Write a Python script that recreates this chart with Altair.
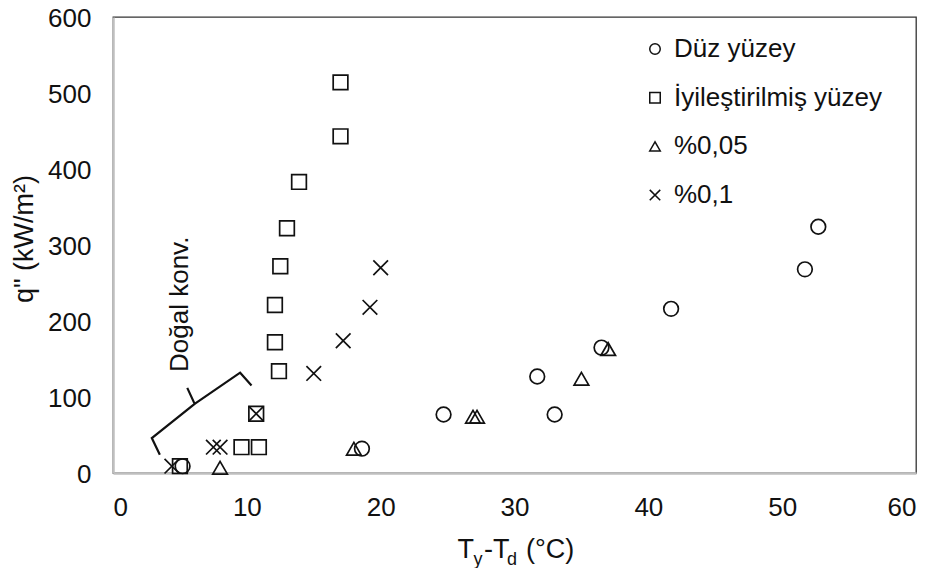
import altair as alt
import pandas as pd

# ---- data ----
series_names = ["Düz yüzey", "İyileştirilmiş yüzey", "%0,05", "%0,1"]

duz_x = [5.2, 18.6, 24.7, 33.0, 31.7, 36.5, 41.7, 51.7, 52.7]
duz_y = [9, 32, 77, 77, 127, 165, 216, 268, 324]

iyi_x = [5.0, 9.6, 10.9, 10.7, 12.4, 12.1, 12.1, 12.5, 13.0, 13.9, 17.0, 17.0]
iyi_y = [9, 34, 34, 78, 134, 172, 221, 272, 322, 383, 443, 514]

p005_x = [8.0, 18.0, 26.9, 27.2, 35.0, 37.0]
p005_y = [7, 32, 74, 74, 124, 163]

p01_x = [4.4, 7.5, 8.0, 10.7, 15.0, 17.2, 19.2, 20.0]
p01_y = [9, 34, 34, 78, 131, 174, 218, 270]

x_ticks = [0, 10, 20, 30, 40, 50, 60]
y_ticks = [0, 100, 200, 300, 400, 500, 600]

# brace annotation ("Doğal konv.") path, in data units
brace_x = [3.5, 2.9, 6.1, 5.55, 6.1, 9.5, 10.35]
brace_y = [24, 46, 91, 112, 91, 132, 115]
annot_text = "Doğal konv."
annot_x = [5.0]
annot_y = [222]

y_title = 'q" (kW/m²)'
x_title_parts = ["T", "y", "-T", "d", "(°C)"]

# ---- build tables ----
rows = []
for name, xs, ys in zip(series_names,
                        [duz_x, iyi_x, p005_x, p01_x],
                        [duz_y, iyi_y, p005_y, p01_y]):
    for a, b in zip(xs, ys):
        rows.append({"seri": name, "x": a, "y": b})
df = pd.DataFrame(rows)

brace_df = pd.DataFrame({"x": brace_x, "y": brace_y, "o": list(range(len(brace_x)))})
annot_df = pd.DataFrame({"x": annot_x, "y": annot_y, "t": [annot_text]})

FONT = "Liberation Sans"
INK = "#111111"

xscale = alt.Scale(domain=[0, 60], nice=False, zero=False)
yscale = alt.Scale(domain=[0, 600], nice=False)

shape_range = ["circle", "square", "triangle-up", "M-1,-1L1,1M-1,1L1,-1"]

points = alt.Chart(df).mark_point(filled=False, color=INK, strokeWidth=1.7, size=215, opacity=1).encode(
    x=alt.X("x:Q", scale=xscale,
            axis=alt.Axis(values=x_ticks, title=None, grid=False, ticks=False, tickSize=0,
                          labelPadding=21, labelFontSize=26, labelFont=FONT, labelColor=INK,
                          domainColor="#bfbfbf", domainWidth=2.5)),
    y=alt.Y("y:Q", scale=yscale,
            axis=alt.Axis(values=y_ticks, title=None, grid=False, ticks=False, tickSize=0,
                          labelPadding=22, labelFontSize=26, labelFont=FONT, labelColor=INK,
                          labelOffset=1,
                          domainColor="#bfbfbf", domainWidth=2.5)),
    shape=alt.Shape("seri:N",
                    scale=alt.Scale(domain=series_names, range=shape_range),
                    legend=alt.Legend(title=None, orient="none", legendX=529, legendY=19,
                                      labelFontSize=26, labelFont=FONT, labelColor=INK,
                                      labelLimit=0,
                                      symbolSize=110, symbolStrokeColor=INK, symbolStrokeWidth=1.5,
                                      symbolFillColor="transparent", labelOffset=6,
                                      rowPadding=22.7, padding=0)),
)

brace = alt.Chart(brace_df).mark_line(color=INK, strokeWidth=2.2, strokeJoin="miter").encode(
    x="x:Q", y="y:Q", order="o:Q"
)

annot = alt.Chart(annot_df).mark_text(angle=270, font=FONT, fontSize=26, color=INK,
                                       align="center", baseline="middle").encode(
    x="x:Q", y="y:Q", text="t:N"
)

ytitle = alt.Chart(pd.DataFrame({"t": [y_title]})).mark_text(
    angle=270, font=FONT, fontSize=27, color=INK, align="center", baseline="middle"
).encode(x=alt.value(-88), y=alt.value(222), text="t:N")

# x title pieces: (x px, baseline y px, font size) relative to the plot origin
piece_layout = [(344.5, 541, 27), (360.5, 548, 18), (371.0, 541, 27), (394.0, 548, 18), (413.0, 541, 27)]
xtitle_layers = []
for txt, (px, py, fs) in zip(x_title_parts, piece_layout):
    xtitle_layers.append(
        alt.Chart(pd.DataFrame({"t": [txt]})).mark_text(
            font=FONT, fontSize=fs, color=INK, align="left", baseline="alphabetic"
        ).encode(x=alt.value(px), y=alt.value(py), text="t:N")
    )

chart = alt.layer(points, brace, annot, ytitle, *xtitle_layers).properties(
    width=803, height=456,
    autosize=alt.AutoSizeParams(type="none"),
    padding={"left": 105, "top": 9, "right": 10, "bottom": 95},
    background="white",
).configure_view(stroke="#333333", strokeWidth=1.3)

chart.save("out.html", embed_options={"renderer": "svg", "actions": False})
